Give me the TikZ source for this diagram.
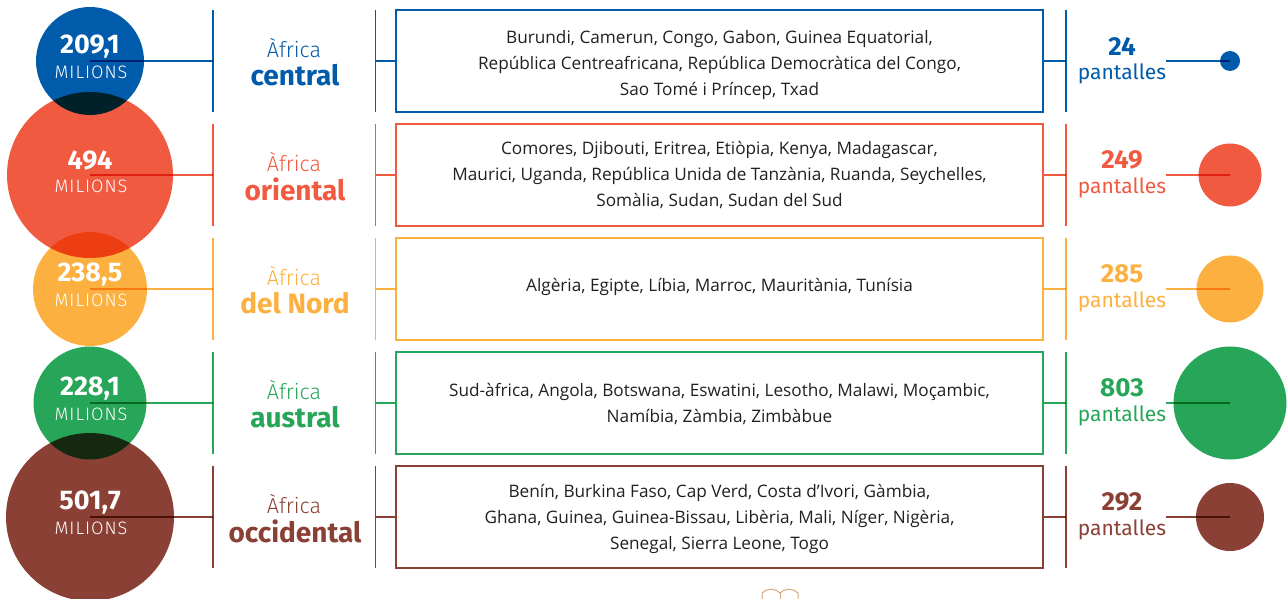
\documentclass[tikz,border=0pt]{standalone}
\usepackage{fontspec}
\setmainfont{Fira Sans}
\newfontfamily\lightf{Fira Sans Light}
\newfontfamily\ctry{Open Sans}
\definecolor{cblue}{HTML}{005BAA}
\definecolor{cred}{HTML}{F05A40}
\definecolor{corange}{HTML}{FBB040}
\definecolor{cgreen}{HTML}{27A558}
\definecolor{cbrown}{HTML}{8A4034}
\definecolor{ctext}{HTML}{231F20}
\definecolor{cicon}{HTML}{D9A77C}
\tikzset{
  ring/.style={circle, inner sep=0pt, minimum size=#1, blend mode=multiply},
  bar/.style={line width=1.3pt, blend mode=multiply},
  bignum/.style={font=\fontsize{27}{30}\selectfont\bfseries, text=white, inner sep=0pt},
  milions/.style={font=\lightf\fontsize{18}{20}\selectfont, text=white, inner sep=0pt},
  regA/.style={font=\lightf\fontsize{21.5}{24}\selectfont, inner sep=0pt},
  regB/.style={font=\fontsize{28}{30}\selectfont\bfseries, inner sep=0pt},
  scrnum/.style={font=\fontsize{26}{28}\selectfont\bfseries, inner sep=0pt},
  scrtxt/.style={font=\fontsize{21}{24}\selectfont, inner sep=0pt},
  ctybox/.style={draw, line width=1.3pt, minimum width=647pt, minimum height=102pt, inner sep=0pt},
  ctytext/.style={font=\ctry\fontsize{17.2}{26}\selectfont, text=ctext, align=center, inner sep=0pt},
}
\begin{document}
\begin{tikzpicture}[x=1pt,y=-1pt]
\useasboundingbox (0,0) rectangle (1288,599);
\foreach \i/\c/\rl/\rr/\num/\reg/\scr/\off/\cty in {
  1/cblue/108/20/{209,1}/central/24/4/{Burundi, Camerun, Congo, Gabon, Guinea Equatorial,\\República Centreafricana, República Democràtica del Congo,\\Sao Tomé i Príncep, Txad},
  2/cred/166/63/{494}/oriental/249/0/{Comores, Djibouti, Eritrea, Etiòpia, Kenya, Madagascar,\\Maurici, Uganda, República Unida de Tanzània, Ruanda, Seychelles,\\Somàlia, Sudan, Sudan del Sud},
  3/corange/114/67/{238,5}/del Nord/285/-2.5/{Algèria, Egipte, Líbia, Marroc, Mauritània, Tunísia},
  4/cgreen/113/113/{228,1}/austral/803/1/{Sud-àfrica, Angola, Botswana, Eswatini, Lesotho, Malawi, Moçambic,\\Namíbia, Zàmbia, Zimbàbue},
  5/cbrown/168/68/{501,7}/occidental/292/2/{Benín, Burkina Faso, Cap Verd, Costa d’Ivori, Gàmbia,\\Ghana, Guinea, Guinea-Bissau, Libèria, Mali, Níger, Nigèria,\\Senegal, Sierra Leone, Togo}}
{
  \pgfmathsetmacro{\y}{61+114*(\i-1)}
  \node[ring=\rl pt, fill=\c] (L\i) at (90,\y) {};
  \node[ring=\rr pt, fill=\c] (R\i) at (1230,\y) {};
  \coordinate (a\i) at (213,\y-51); \coordinate (b\i) at (213,\y+51); \coordinate (m\i) at (213,\y);
  \coordinate (c\i) at (375.5,\y-51); \coordinate (d\i) at (375.5,\y+51); \coordinate (n\i) at (375.5,\y);
  \coordinate (e\i) at (1066,\y-51); \coordinate (f\i) at (1066,\y+51); \coordinate (o\i) at (1066,\y);
  \coordinate (s\i) at (1166,\y);
  \node[ctybox, draw=\c] (box\i) at (719.5,\y) {};
  \node[ctytext] (ct\i) at (719.5,\y+\off) {\cty};
  \draw[bar, \c] (L\i.center) -- (m\i);
  \draw[bar, \c] (a\i) -- (b\i);
  \draw[bar, \c] (c\i) -- (d\i);
  \draw[bar, \c] (n\i) -- (box\i.west);
  \draw[bar, \c] (box\i.east) -- (o\i);
  \draw[bar, \c] (e\i) -- (f\i);
  \draw[bar, \c] (s\i) -- (R\i.center);
  \node[bignum] (num\i) at (90,\y-14) {\num};
  \node[milions] (mil\i) at (91,\y+11) {M\kern1pt I\kern1pt L\kern1pt I\kern1pt O\kern1pt N\kern1pt S};
  \node[regA, text=\c] (ra\i) at (294,\y-13) {Àfrica};
  \node[regB, text=\c] (rb\i) at (295,\y+14) {\reg};
  \node[scrnum, text=\c] (sn\i) at (1122,\y-15) {\scr};
  \node[scrtxt, text=\c] (st\i) at (1122,\y+13) {pantalles};
}
% small book icon at bottom
\coordinate (k1) at (762,599); \coordinate (k2) at (762,593);
\coordinate (k3) at (780,593); \coordinate (k4) at (798,593); \coordinate (k5) at (798,599);
\draw[cicon, line width=1pt] (k1) -- (k2) .. controls (766,588) and (776,588) .. (k3)
  .. controls (784,588) and (794,588) .. (k4) -- (k5);
\draw[cicon, line width=1pt] (k3) -- (780,599);
\end{tikzpicture}
\end{document}
